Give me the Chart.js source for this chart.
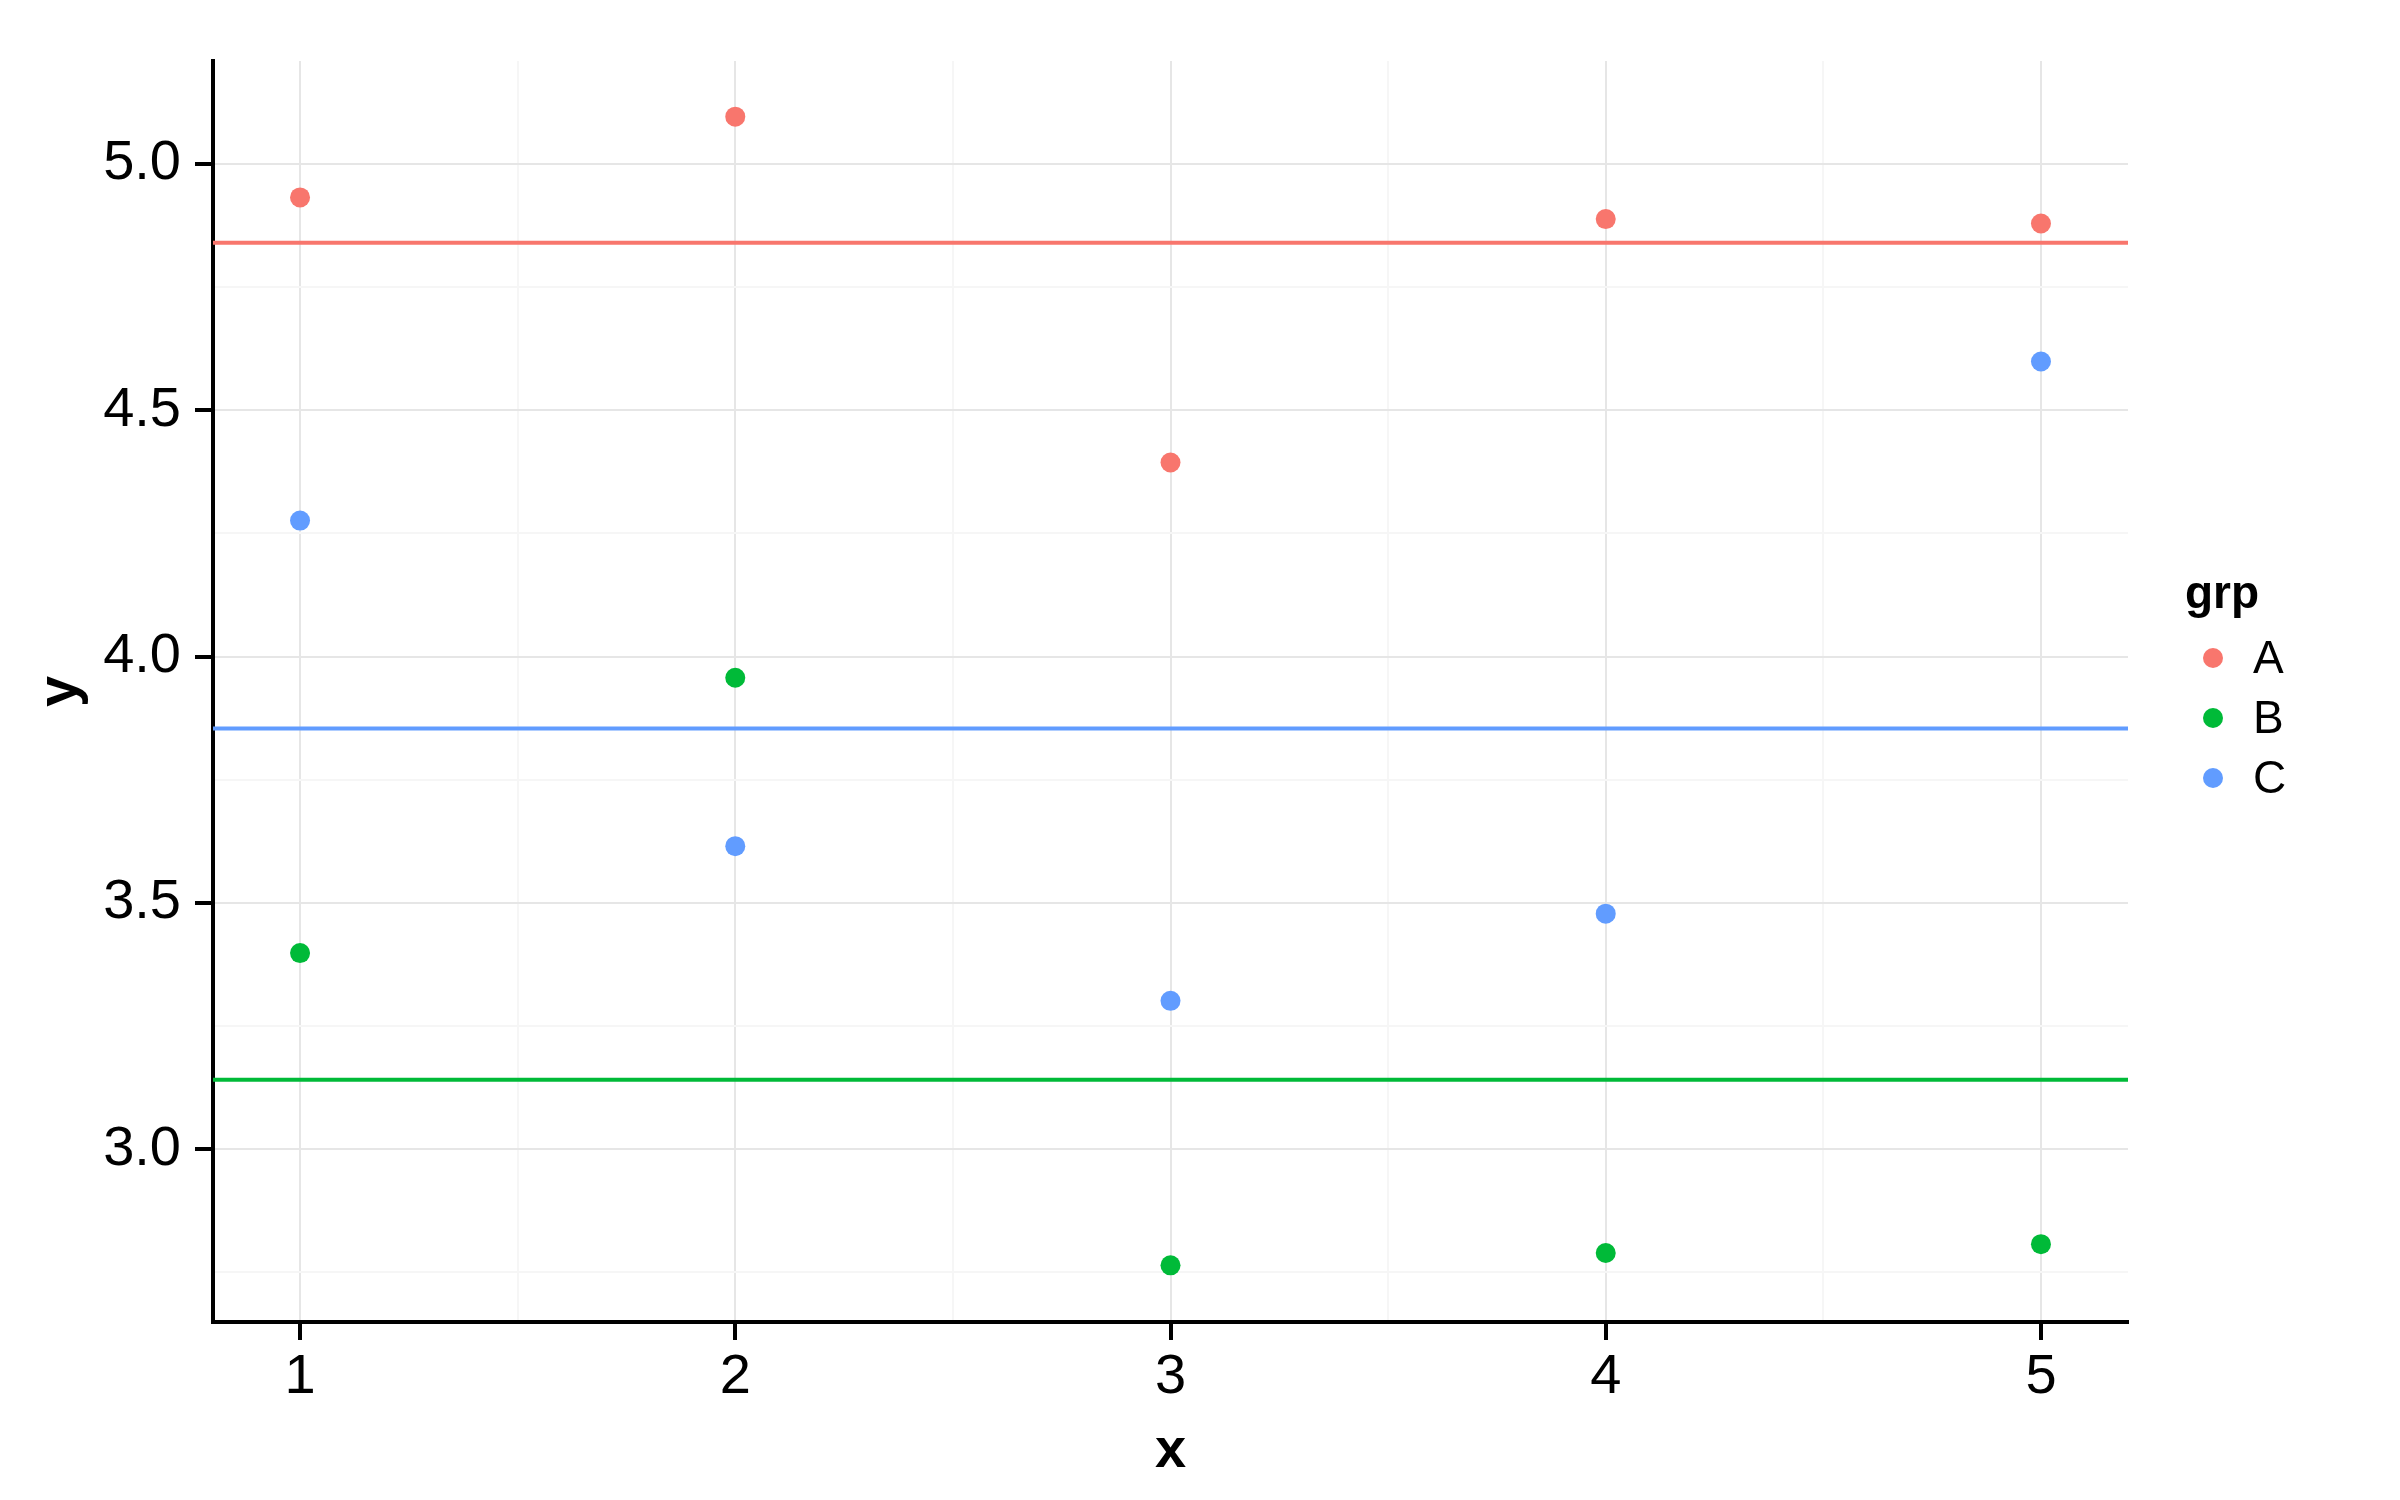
<!DOCTYPE html>
<html>
<head>
<meta charset="utf-8">
<script src="https://cdn.jsdelivr.net/npm/chart.js@4"></script>
<style>
  html, body { margin: 0; padding: 0; background: #ffffff; }
  #wrap { width: 2400px; height: 1500px; position: relative; }
</style>
</head>
<body>
<div id="wrap"><canvas id="chart" width="2400" height="1500"></canvas></div>
<script>
// data
const groups = ['A', 'B', 'C'];
const groupColors = ['#F8766D', '#00BA38', '#619CFF'];
const xValues = [1, 2, 3, 4, 5];
const aValues = [4.932, 5.096, 4.394, 4.888, 4.879];
const bValues = [3.398, 3.957, 2.764, 2.789, 2.807];
const cValues = [4.276, 3.615, 3.301, 3.478, 4.599];
const meanValues = [4.840, 3.141, 3.854];

const xLimits = [0.8, 5.2];
const yLimits = [2.649, 5.209];
const xMajorTicks = [1, 2, 3, 4, 5];
const xMinorTicks = [1.5, 2.5, 3.5, 4.5];
const yMajorTicks = [3.0, 3.5, 4.0, 4.5, 5.0];
const yMinorTicks = [2.75, 3.25, 3.75, 4.25, 4.75];
const yTickLabels = ['3.0', '3.5', '4.0', '4.5', '5.0'];

const seriesValues = [aValues, bValues, cValues];

const FONT = '"Liberation Sans", Arial, sans-serif';

const datasets = [];
groups.forEach((g, i) => {
    datasets.push({
        label: g,
        type: 'scatter',
        data: xValues.map((x, j) => ({ x: x, y: seriesValues[i][j] })),
        backgroundColor: groupColors[i],
        borderColor: groupColors[i],
        pointRadius: 10,
        pointBorderWidth: 0,
        order: 2
    });
});
groups.forEach((g, i) => {
    datasets.push({
        label: g + ' mean',
        type: 'line',
        data: [{ x: xLimits[0], y: meanValues[i] }, { x: xLimits[1], y: meanValues[i] }],
        borderColor: groupColors[i],
        borderWidth: 4,
        pointRadius: 0,
        fill: false,
        order: 1
    });
});

function isMajor(list, v) {
    return list.some(t => Math.abs(t - v) < 1e-9);
}

// legend drawn to the right like ggplot's guide
const legendPlugin = {
    id: 'grpLegend',
    afterDraw(chart) {
        const ctx = chart.ctx;
        ctx.save();
        ctx.fillStyle = '#000000';
        ctx.font = 'bold 46px ' + FONT;
        ctx.textAlign = 'left';
        ctx.textBaseline = 'alphabetic';
        ctx.fillText('grp', 2185, 608);
        groups.forEach((g, i) => {
            const y = 658 + i * 60;
            ctx.beginPath();
            ctx.arc(2213, y, 10, 0, Math.PI * 2);
            ctx.fillStyle = groupColors[i];
            ctx.fill();
            ctx.fillStyle = '#000000';
            ctx.font = '46px ' + FONT;
            ctx.textBaseline = 'middle';
            ctx.fillText(g, 2253, y + 2);
        });
        ctx.restore();
    }
};

new Chart(document.getElementById('chart'), {
    type: 'scatter',
    data: { datasets: datasets },
    options: {
        responsive: false,
        animation: false,
        layout: { padding: { left: 0, top: 61, right: 272, bottom: 0 } },
        plugins: {
            legend: { display: false },
            tooltip: { enabled: false }
        },
        scales: {
            x: {
                type: 'linear',
                min: xLimits[0],
                max: xLimits[1],
                afterBuildTicks(scale) {
                    scale.ticks = xMajorTicks.concat(xMinorTicks).sort((a, b) => a - b).map(v => ({ value: v }));
                },
                afterFit(scale) { scale.height = 178; },
                ticks: {
                    autoSkip: false,
                    maxRotation: 0,
                    padding: 4,
                    color: '#000000',
                    font: { family: FONT, size: 56 },
                    callback: (v) => isMajor(xMajorTicks, v) ? String(v) : ''
                },
                grid: {
                    color: (c) => isMajor(xMajorTicks, c.tick.value) ? '#E6E6E6' : '#F6F6F6',
                    lineWidth: 2,
                    tickLength: 18,
                    tickColor: (c) => isMajor(xMajorTicks, c.tick.value) ? '#000000' : 'rgba(0,0,0,0)',
                    tickWidth: 4
                },
                border: { display: true, color: '#000000', width: 4 },
                title: {
                    display: true,
                    text: 'x',
                    color: '#000000',
                    font: { family: FONT, size: 56, weight: 'bold' },
                    padding: { top: 0, bottom: 15 }
                }
            },
            y: {
                type: 'linear',
                min: yLimits[0],
                max: yLimits[1],
                afterBuildTicks(scale) {
                    scale.ticks = yMajorTicks.concat(yMinorTicks).sort((a, b) => a - b).map(v => ({ value: v }));
                },
                afterFit(scale) { scale.width = 213; },
                ticks: {
                    autoSkip: false,
                    padding: 14,
                    color: '#000000',
                    font: { family: FONT, size: 56 },
                    callback: (v) => {
                        const k = yMajorTicks.findIndex(t => Math.abs(t - v) < 1e-9);
                        return k >= 0 ? yTickLabels[k] : '';
                    }
                },
                grid: {
                    color: (c) => isMajor(yMajorTicks, c.tick.value) ? '#E6E6E6' : '#F6F6F6',
                    lineWidth: 2,
                    tickLength: 18,
                    tickColor: (c) => isMajor(yMajorTicks, c.tick.value) ? '#000000' : 'rgba(0,0,0,0)',
                    tickWidth: 4
                },
                border: { display: true, color: '#000000', width: 4 },
                title: {
                    display: true,
                    text: 'y',
                    color: '#000000',
                    font: { family: FONT, size: 56, weight: 'bold' },
                    padding: { top: 27, bottom: 0 }
                }
            }
        }
    },
    plugins: [legendPlugin]
});
</script>
</body>
</html>
